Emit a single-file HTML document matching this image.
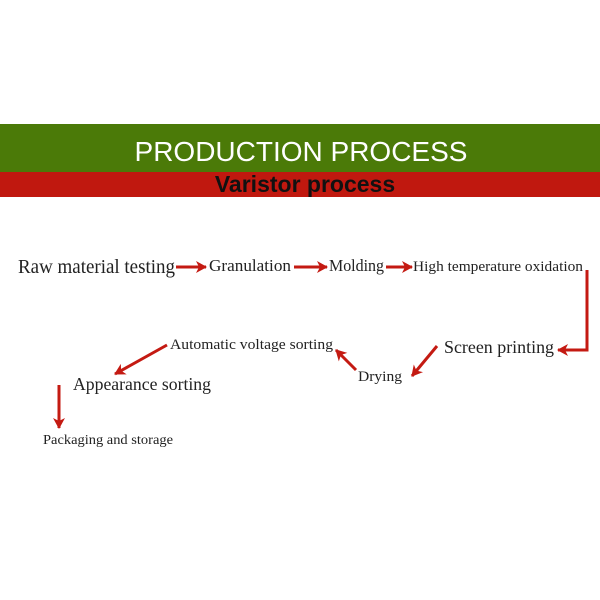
<!DOCTYPE html>
<html><head><meta charset="utf-8"><style>html,body{margin:0;padding:0;background:#fff}svg{display:block}</style></head>
<body>
<svg width="600" height="600" viewBox="0 0 600 600" xmlns="http://www.w3.org/2000/svg">
<defs>
<marker id="a" markerWidth="14" markerHeight="14" refX="10" refY="7" orient="auto" markerUnits="userSpaceOnUse"><path d="M0,1 L11,7 L0,13 L3,7 Z" fill="#c41a12"/></marker>
</defs>
<rect x="0" y="124" width="600" height="48" fill="#4b7a08"/>
<rect x="0" y="172" width="600" height="25" fill="#c0180f"/>
<text x="301" y="161" text-anchor="middle" font-family="Liberation Sans, sans-serif" font-size="28" fill="#fff">PRODUCTION PROCESS</text>
<text x="305" y="192" text-anchor="middle" font-family="Liberation Sans, sans-serif" font-size="23" font-weight="bold" fill="#111">Varistor process</text>
<g font-family="Liberation Serif, serif" fill="#222">
<text x="18" y="273" font-size="19.5" textLength="157" lengthAdjust="spacingAndGlyphs">Raw material testing</text>
<text x="209" y="271" font-size="16.5" textLength="82" lengthAdjust="spacingAndGlyphs">Granulation</text>
<text x="329" y="271" font-size="16.5" textLength="55" lengthAdjust="spacingAndGlyphs">Molding</text>
<text x="413" y="271" font-size="14.5" textLength="170" lengthAdjust="spacingAndGlyphs">High temperature oxidation</text>
<text x="444" y="353" font-size="17.5" textLength="110" lengthAdjust="spacingAndGlyphs">Screen printing</text>
<text x="358" y="381" font-size="15" textLength="44" lengthAdjust="spacingAndGlyphs">Drying</text>
<text x="170" y="349" font-size="14.5" textLength="163" lengthAdjust="spacingAndGlyphs">Automatic voltage sorting</text>
<text x="73" y="390" font-size="17.5" textLength="138" lengthAdjust="spacingAndGlyphs">Appearance sorting</text>
<text x="43" y="444" font-size="13.5" textLength="130" lengthAdjust="spacingAndGlyphs">Packaging and storage</text>
</g>
<g stroke="#c41a12" stroke-width="3" fill="none">
<line x1="176" y1="267" x2="206" y2="267" marker-end="url(#a)"/>
<line x1="294" y1="267" x2="327" y2="267" marker-end="url(#a)"/>
<line x1="386" y1="267" x2="412" y2="267" marker-end="url(#a)"/>
<polyline points="587,270 587,350 558,350" marker-end="url(#a)"/>
<line x1="437" y1="346" x2="412" y2="376" marker-end="url(#a)"/>
<line x1="356" y1="370" x2="336" y2="350" marker-end="url(#a)"/>
<line x1="167" y1="345" x2="115" y2="374" marker-end="url(#a)"/>
<line x1="59" y1="385" x2="59" y2="428" marker-end="url(#a)"/>
</g>
</svg>
</body></html>
